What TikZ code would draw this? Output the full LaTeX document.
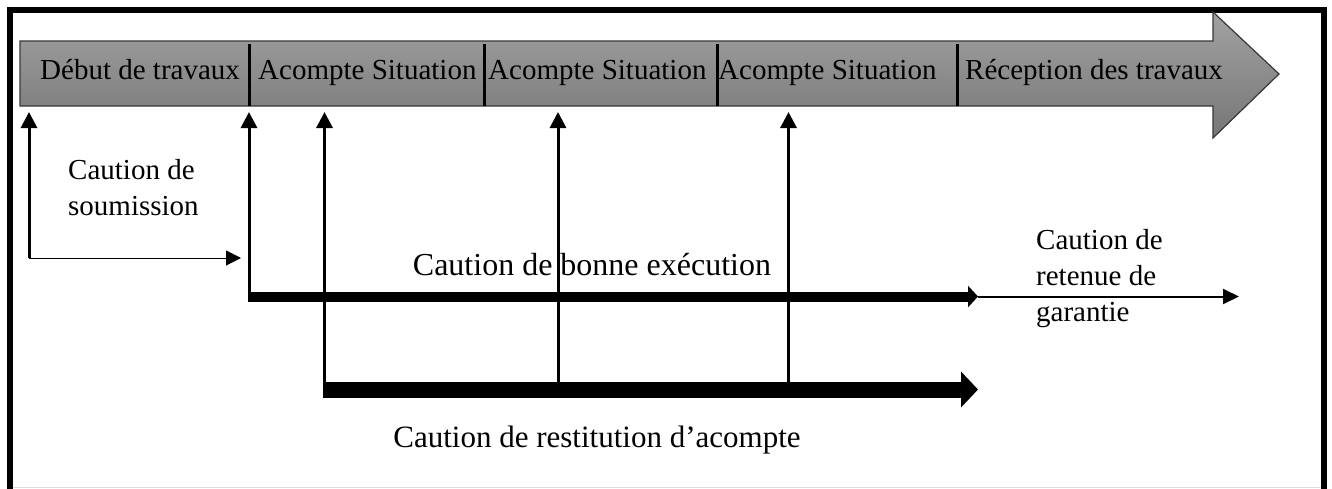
\documentclass[tikz,border=0pt]{standalone}
\usepackage{fontspec}
\setmainfont{Liberation Serif}
\usetikzlibrary{arrows.meta}
\begin{document}
\begin{tikzpicture}[x=1pt,y=-1pt,
  bandtext/.style={font=\fontsize{29}{35}\selectfont, inner sep=0, anchor=base west},
  caption/.style={font=\fontsize{29}{36}\selectfont, inner sep=0, align=left, anchor=north west},
  bigcaption/.style={font=\fontsize{#1}{36}\selectfont, inner sep=0, anchor=base},
  upline/.style={line width=3pt, -{Triangle[length=16pt,width=16pt]}},
  thinline/.style={line width=1pt, -{Triangle[length=15pt,width=15pt]}},
  tailline/.style={line width=2pt, -{Triangle[length=16pt,width=15pt]}},
  boldline/.style={line width=10pt, -{Triangle[length=10pt,width=21pt]}},
  heavyline/.style={line width=16pt, -{Triangle[length=17pt,width=35pt]}},
  sepline/.style={line width=3pt},
  frameline/.style={line width=6pt}]
\useasboundingbox (0,0) rectangle (1332,488);

% outer frame
\draw[frameline] (9.5,495) -- (9.5,10) -- (1323.7,10) -- (1323.7,495);
\draw[line width=1pt, black!13] (12.5,487.5) -- (1320.7,487.5);

% timeline band
\shade[top color={rgb,255:red,162;green,162;blue,162},
       bottom color={rgb,255:red,118;green,118;blue,118},
       draw={rgb,255:red,55;green,55;blue,55}, line width=1.2pt]
  (20,41) -- (1213,41) -- (1213,12) -- (1279,74) -- (1213,138)
  -- (1213,106) -- (20,106) -- cycle;
\foreach \sx in {249,484,717,957}
  \draw[sepline] (\sx,44) -- (\sx,106);

\node[bandtext] (debut) at (40,79) {Début de travaux};
\node[bandtext] (ac1) at (258,79) {Acompte Situation};
\node[bandtext] (ac2) at (488,79) {Acompte Situation};
\node[bandtext] (ac3) at (718,79) {Acompte Situation};
\node[bandtext] (recep) at (965,79) {Réception des travaux};

% connector end points
\coordinate (tA) at (29,112);
\coordinate (cA) at (29,258);
\coordinate (eA) at (241,258);
\coordinate (tB) at (249,112);
\coordinate (cB) at (249,301.5);
\coordinate (sB) at (247.5,296.5);
\coordinate (eB) at (978,296.5);
\coordinate (fB) at (1239,296.5);
\coordinate (tC) at (324.5,112);
\coordinate (cC) at (324.5,397.5);
\coordinate (sC) at (323,389.5);
\coordinate (eC) at (978,389.5);
\coordinate (tD) at (558,112);
\coordinate (cD) at (558,382);
\coordinate (tE) at (788.5,112);
\coordinate (cE) at (788.5,382);

% caution de soumission
\draw[upline] (cA) -- (tA);
\draw[thinline] (cA) -- (eA);
% caution de bonne execution
\draw[upline] (cB) -- (tB);
\draw[boldline] (sB) -- (eB);
\draw[tailline] (eB) -- (fB);
% caution de restitution d'acompte
\draw[upline] (cC) -- (tC);
\draw[upline] (cD) -- (tD);
\draw[upline] (cE) -- (tE);
\draw[heavyline] (sC) -- (eC);

% captions
\node[caption] (soum) at (68,159.5) {Caution de\\soumission};
\node[caption] (reten) at (1036,229.5) {Caution de\\retenue de\\garantie};
\node[bigcaption=32] (bonne) at (592,275) {Caution de bonne exécution};
\node[bigcaption=31] (restit) at (597,447) {Caution de restitution d’acompte};
\end{tikzpicture}
\end{document}
